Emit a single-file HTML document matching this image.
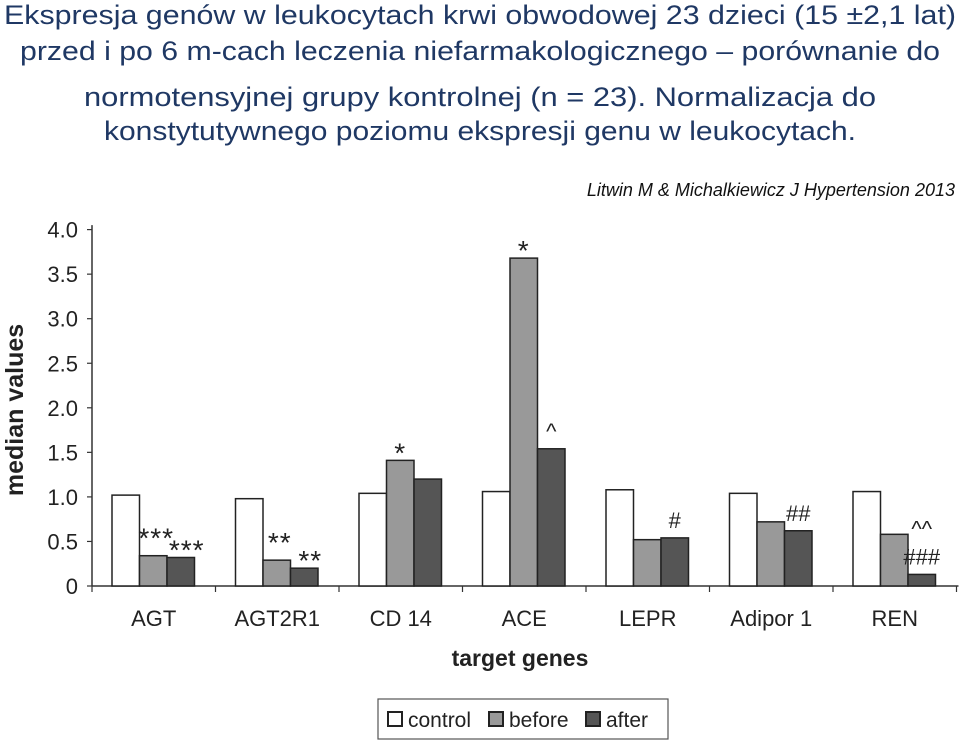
<!DOCTYPE html>
<html><head><meta charset="utf-8"><style>
body{margin:0;background:#fff;width:960px;height:740px;overflow:hidden}
svg{display:block}
.t{font-family:"Liberation Sans",sans-serif;font-size:27px;fill:#1f3864}
.ax{font-family:"Liberation Sans",sans-serif;fill:#222}
</style></head><body>
<svg width="960" height="740">
<g>
<text class="t" x="480" y="24" text-anchor="middle" textLength="952" lengthAdjust="spacingAndGlyphs">Ekspresja genów w leukocytach krwi obwodowej 23 dzieci (15 ±2,1 lat)</text>
<text class="t" x="480" y="60" text-anchor="middle" textLength="920" lengthAdjust="spacingAndGlyphs">przed i po 6 m-cach leczenia niefarmakologicznego – porównanie do</text>
<text class="t" x="480" y="106" text-anchor="middle" textLength="792" lengthAdjust="spacingAndGlyphs">normotensyjnej grupy kontrolnej (n = 23). Normalizacja do</text>
<text class="t" x="480" y="140" text-anchor="middle" textLength="752" lengthAdjust="spacingAndGlyphs">konstytutywnego poziomu ekspresji genu w leukocytach.</text>
</g>
<text x="955" y="196" text-anchor="end" font-family="Liberation Sans,sans-serif" font-style="italic" font-size="18" fill="#111">Litwin M &amp; Michalkiewicz J Hypertension 2013</text>
<g id="plot"></g>
<text class="ax" font-weight="bold" font-size="25" transform="translate(23,410) rotate(-90)" text-anchor="middle">median values</text>
<text class="ax" font-weight="bold" font-size="23" x="520" y="666" text-anchor="middle">target genes</text>
<g>
<rect x="378" y="699" width="290" height="40" fill="#fff" stroke="#555" stroke-width="1.2"/>
<rect x="388" y="712" width="14" height="14" fill="#fff" stroke="#222" stroke-width="2"/>
<text class="ax" x="408" y="727" font-size="21">control</text>
<rect x="489" y="712" width="14" height="14" fill="#999" stroke="#222" stroke-width="2"/>
<text class="ax" x="509" y="727" font-size="21">before</text>
<rect x="586" y="712" width="14" height="14" fill="#555" stroke="#222" stroke-width="2"/>
<text class="ax" x="606" y="727" font-size="21">after</text>
</g>
</svg>
<script>
const categories=["AGT","AGT2R1","CD 14","ACE","LEPR","Adipor 1","REN"];
const controlVals=[1.02,0.98,1.04,1.06,1.08,1.04,1.06];
const beforeVals=[0.34,0.29,1.41,3.68,0.52,0.72,0.58];
const afterVals=[0.32,0.20,1.20,1.54,0.54,0.62,0.13];
const yTicks=[0,0.5,1.0,1.5,2.0,2.5,3.0,3.5,4.0];
const yTickLabels=["0","0.5","1.0","1.5","2.0","2.5","3.0","3.5","4.0"];
const beforeMarks=["***","**","*","*","","",""];
const afterMarks=["***","**","","^","#","##","^^\n###"];
const NS="http://www.w3.org/2000/svg";
const g=document.getElementById('plot');
const X0=92,Y0=586,PU=89.1,GW=123.5,BW=27.5,OFF=20;
const y=v=>Y0-v*PU;
const gx=i=>X0+i*GW;
function el(t,a){const e=document.createElementNS(NS,t);for(const k in a)e.setAttribute(k,a[k]);g.appendChild(e);return e;}
const ax=el('line',{x1:X0,y1:y(4.05),x2:X0,y2:Y0,stroke:'#333','stroke-width':1.5});


const xl=el('line',{x1:X0,y1:Y0,x2:gx(categories.length)+2,y2:Y0,stroke:'#333','stroke-width':1.5});


yTicks.forEach((v,i)=>{
 el('line',{x1:X0-5,y1:y(v),x2:X0,y2:y(v),stroke:'#333','stroke-width':1.2});
 const t=el('text',{x:X0-14,y:y(v)+8,'text-anchor':'end','font-size':22,class:'ax'});
 t.textContent=yTickLabels[i];
 
 
});
for(let i=0;i<=categories.length;i++)el('line',{x1:gx(i),y1:Y0,x2:gx(i),y2:Y0+6,stroke:'#333','stroke-width':1.2});
const series=[[controlVals,'#fff','control'],[beforeVals,'#999','before'],[afterVals,'#555','after']];
categories.forEach((c,i)=>{
 series.forEach((s,j)=>{
  const v=s[0][i];
  const r=el('rect',{x:gx(i)+OFF+j*BW,y:y(v),width:BW,height:v*PU,fill:s[1],stroke:'#222','stroke-width':1.5});
  
  
 });
 const lt=el('text',{x:gx(i)+GW/2,y:626,'text-anchor':'middle','font-size':22,class:'ax'});
 lt.textContent=c;
 
 
 [[beforeMarks,1,beforeVals],[afterMarks,2,afterVals]].forEach(m=>{
  const s=m[0][i];if(!s)return;
  const lines=s.split("\n");
  lines.forEach((ln,k)=>{
   const star=ln[0]=='*';
   const tt=el('text',{x:gx(i)+OFF+m[1]*BW+BW/2+(star&&ln.length>1?(m[1]==2?6:3):0),y:y(m[2][i])-(star?-2:10)-(lines.length-1-k)*28+(star&&ln.length>1&&m[1]==1?-10:0),'text-anchor':'middle','font-size':star?28:22,'letter-spacing':star?1:0,class:'ax'});
   tt.textContent=ln;
   
   
  });
 });
});
</script>
</body></html>
